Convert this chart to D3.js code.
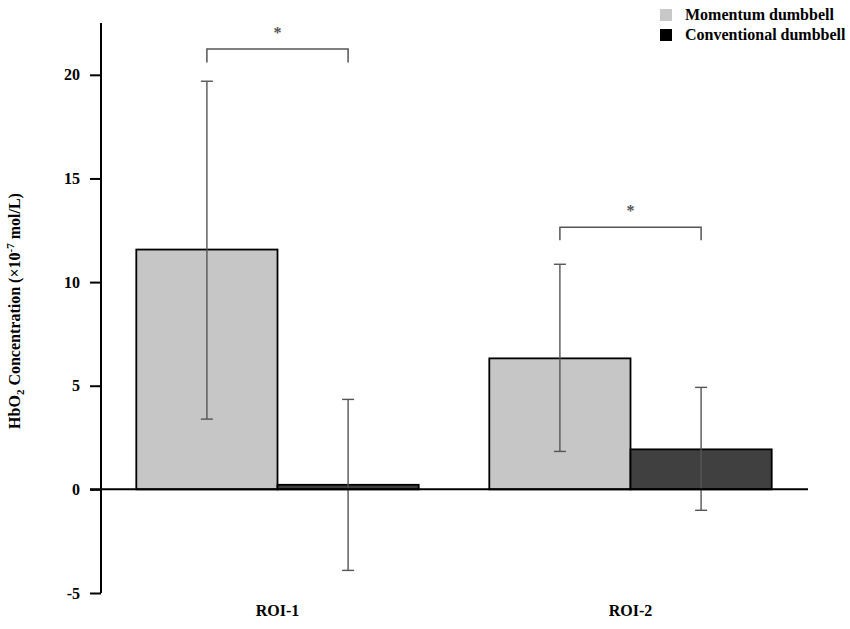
<!DOCTYPE html>
<html>
<head>
<meta charset="utf-8">
<script src="https://cdn.jsdelivr.net/npm/d3@7"></script>
<style>
  body { margin: 0; background: #fff; }
  text { font-family: "Liberation Serif", "Times New Roman", serif; font-weight: bold; }
</style>
</head>
<body>
<svg id="chart" width="850" height="629"></svg>
<script>
// Chart data
const regions = ['ROI-1', 'ROI-2'];
const groups = ['Momentum dumbbell', 'Conventional dumbbell'];
const momentumMean = [11.57, 6.32];
const momentumLow = [3.39, 1.83];
const momentumHigh = [19.69, 10.86];
const conventionalMean = [0.22, 1.93];
const conventionalLow = [-3.91, -1.01];
const conventionalHigh = [4.34, 4.92];
const yTicks = [-5, 0, 5, 10, 15, 20];
// significance brackets: top of bracket and bottom of its legs (data units)
const bracketTop = [21.24, 12.64];
const bracketLegEnd = [20.6, 12.02];

const barFill = ['#c6c6c6', '#404040'];
const legendFill = ['#c8c8c8', '#000'];

const svg = d3.select('#chart');

const x0 = d3.scaleBand()
  .domain(regions)
  .range([101, 807])
  .paddingInner(0.2)
  .paddingOuter(0.1);

const x1 = d3.scaleBand()
  .domain(groups)
  .range([0, x0.bandwidth()]);

const y = d3.scaleLinear()
  .domain([-5, 22.5])
  .range([593, 23]);

const rows = [];
regions.forEach((r, i) => {
  rows.push({ region: r, group: groups[0], mean: momentumMean[i], lo: momentumLow[i], hi: momentumHigh[i], k: 0 });
  rows.push({ region: r, group: groups[1], mean: conventionalMean[i], lo: conventionalLow[i], hi: conventionalHigh[i], k: 1 });
});

// Bars
svg.selectAll('.bar')
  .data(rows)
  .enter()
  .append('rect')
  .attr('class', 'bar')
  .attr('x', d => x0(d.region) + x1(d.group))
  .attr('y', d => y(Math.max(0, d.mean)))
  .attr('width', x1.bandwidth())
  .attr('height', d => Math.abs(y(d.mean) - y(0)))
  .attr('fill', d => barFill[d.k])
  .attr('stroke', '#000')
  .attr('stroke-width', 1.8);

// Error bars
const cx = d => x0(d.region) + x1(d.group) + x1.bandwidth() / 2;
const err = svg.append('g')
  .attr('stroke', '#555')
  .attr('stroke-width', 1.4);

err.selectAll('.whisker')
  .data(rows)
  .enter()
  .append('line')
  .attr('x1', cx).attr('x2', cx)
  .attr('y1', d => y(d.lo)).attr('y2', d => y(d.hi));

['lo', 'hi'].forEach(key => {
  err.selectAll('.cap-' + key)
    .data(rows)
    .enter()
    .append('line')
    .attr('x1', d => cx(d) - 6).attr('x2', d => cx(d) + 6)
    .attr('y1', d => y(d[key])).attr('y2', d => y(d[key]));
});

// Zero line
svg.append('line')
  .attr('x1', 90).attr('x2', 808)
  .attr('y1', y(0)).attr('y2', y(0))
  .attr('stroke', '#000')
  .attr('stroke-width', 2);

// Y axis
const yAxis = svg.append('g')
  .attr('transform', 'translate(101,0)')
  .call(d3.axisLeft(y).tickValues(yTicks).tickFormat(d => String(d))
    .tickSize(11).tickSizeOuter(0).tickPadding(10));

yAxis.select('.domain')
  .attr('stroke-width', 2)
  .attr('d', `M0,${y(22.5)}V${y(-5)}`);
yAxis.selectAll('.tick line').attr('stroke-width', 2);
yAxis.selectAll('.tick text')
  .style('font-size', '16px')
  .style('font-family', '"Liberation Serif", serif')
  .style('font-weight', 'bold')
  .attr('fill', '#000');

// X labels
svg.selectAll('.xlabel')
  .data(regions)
  .enter()
  .append('text')
  .attr('x', d => x0(d) + x0.bandwidth() / 2)
  .attr('y', 616)
  .attr('text-anchor', 'middle')
  .style('font-size', '16px')
  .text(d => d);

// Y title
const title = svg.append('text')
  .attr('transform', 'translate(20,311) rotate(-90)')
  .attr('text-anchor', 'middle')
  .style('font-size', '16px');
title.append('tspan').text('HbO');
title.append('tspan').attr('dy', 4).style('font-size', '11px').text('2');
title.append('tspan').attr('dy', -4).text(' Concentration (×10');
title.append('tspan').attr('dy', -6).style('font-size', '11px').text('-7');
title.append('tspan').attr('dy', 6).text(' mol/L)');

// Significance brackets
const br = svg.append('g')
  .attr('fill', 'none')
  .attr('stroke', '#555')
  .attr('stroke-width', 1.5);
regions.forEach((r, i) => {
  const xa = x0(r) + x1(groups[0]) + x1.bandwidth() / 2;
  const xb = x0(r) + x1(groups[1]) + x1.bandwidth() / 2;
  br.append('path')
    .attr('d', `M${xa},${y(bracketLegEnd[i])}V${y(bracketTop[i])}H${xb}V${y(bracketLegEnd[i])}`);
  svg.append('text')
    .attr('x', (xa + xb) / 2)
    .attr('y', y(bracketTop[i]) - 11)
    .attr('text-anchor', 'middle')
    .attr('fill', '#555')
    .style('font-size', '16px')
    .text('*');
});

// Legend
const legend = svg.append('g').attr('transform', 'translate(660,9)');
groups.forEach((g, i) => {
  legend.append('rect')
    .attr('x', 0).attr('y', i * 20)
    .attr('width', 12).attr('height', 12)
    .attr('fill', legendFill[i]);
  legend.append('text')
    .attr('x', 25).attr('y', i * 20 + 11)
    .style('font-size', '16px')
    .text(g);
});
</script>
</body>
</html>
